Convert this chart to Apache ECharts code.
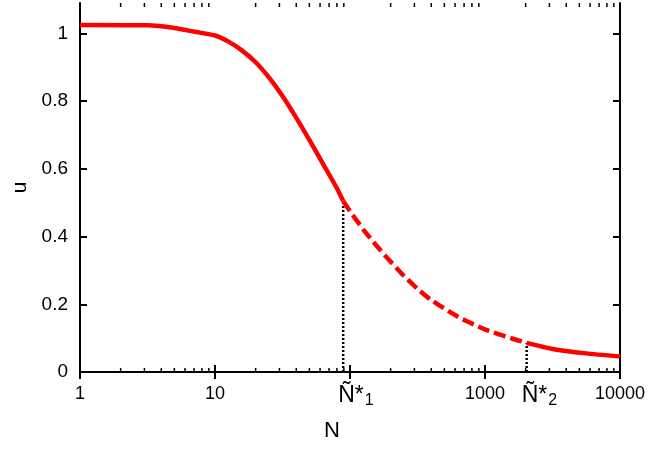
<!DOCTYPE html>
<html>
<head>
<meta charset="utf-8">
<script src="https://cdn.jsdelivr.net/npm/echarts@6/dist/echarts.min.js"></script>
<style>
  html, body { margin: 0; padding: 0; background: #fff; }
  #main { width: 654px; height: 451px; }
</style>
</head>
<body>
<div id="main"></div>
<script>
// curve
var solidN = [1, 3.16, 5.01, 7.08, 10, 12.6, 15.8, 20, 25.1, 31.6, 39.8, 50.1, 63.1, 79.4, 89];
var solidU = [1.025, 1.024, 1.016, 1.005, 0.994, 0.976, 0.950, 0.915, 0.870, 0.815, 0.752, 0.685, 0.615, 0.545, 0.505];
var dashN = [89, 100, 126, 158, 200, 251, 316, 398, 631, 1000, 1585, 2035];
var dashU = [0.505, 0.475, 0.420, 0.372, 0.326, 0.284, 0.246, 0.213, 0.163, 0.126, 0.099, 0.086];
var tailN = [2035, 3162, 5623, 10000];
var tailU = [0.086, 0.068, 0.055, 0.046];

// the two marked points
var nStar1 = 89, uStar1 = 0.505;
var nStar2 = 2035, uStar2 = 0.086;

// axes
var xMajor = [1, 10, 100, 1000, 10000];
var xLabels = [1, 10, 1000, 10000];
var xMinor = [2, 3, 4, 5, 6, 7, 8, 9, 20, 30, 40, 50, 60, 70, 80, 90,
  200, 300, 400, 500, 600, 700, 800, 900, 2000, 3000, 4000, 5000, 6000, 7000, 8000, 9000];
var yTicks = [0, 0.2, 0.4, 0.6, 0.8, 1];
var yMax = 1.09;

function pairs(xs, ys) {
  return xs.map(function (x, i) { return [x, ys[i]]; });
}

var font = 'Liberation Sans, Arial, sans-serif';
var black = '#000';

var chart = echarts.init(document.getElementById('main'), null, { renderer: 'canvas' });

var starLabel = function (sub) {
  return {
    show: true,
    position: 'bottom',
    distance: 11,
    align: 'left',
    offset: [-5, 0],
    color: black,
    opacity: 1,
    fontSize: 23,
    fontFamily: font,
    formatter: '{n|Ñ*}{s|' + sub + '}',
    rich: {
      n: { fontSize: 23, fontFamily: font, color: black },
      s: { fontSize: 16, fontFamily: font, color: black, padding: [9, 0, 0, 1] }
    }
  };
};

var option = {
  animation: false,
  grid: { left: 80, right: 34, top: 3, bottom: 79 },
  xAxis: [{
    type: 'log',
    logBase: 10,
    min: 1,
    max: 10000,
    name: 'N',
    nameLocation: 'middle',
    nameGap: 48,
    nameTextStyle: { fontSize: 22, fontFamily: font, color: black, padding: [0, 36, 0, 0] },
    axisLine: { lineStyle: { color: black, width: 2 } },
    axisTick: { inside: true, length: 7, customValues: xMajor, lineStyle: { color: black, width: 2 } },
    axisLabel: {
      customValues: xLabels,
      margin: 13,
      fontSize: 18,
      fontFamily: font,
      color: black,
      formatter: function (v) { return String(Math.round(v)); }
    },
    splitLine: { show: false }
  }, {
    type: 'log',
    logBase: 10,
    min: 1,
    max: 10000,
    position: 'top',
    axisLine: { lineStyle: { color: black, width: 2 } },
    axisTick: { inside: true, length: 7, customValues: xMajor, lineStyle: { color: black, width: 2 } },
    axisLabel: { show: false },
    splitLine: { show: false }
  }],
  yAxis: [{
    type: 'value',
    min: 0,
    max: yMax,
    interval: 0.2,
    name: 'u',
    nameLocation: 'middle',
    nameGap: 45,
    nameTextStyle: { fontSize: 21, fontFamily: font, color: black },
    axisLine: { lineStyle: { color: black, width: 2 } },
    axisTick: { inside: true, length: 7, customValues: yTicks, lineStyle: { color: black, width: 2 } },
    axisLabel: {
      customValues: yTicks,
      margin: 12,
      fontSize: 19,
      fontFamily: font,
      color: black,
      formatter: function (v) { return String(v); }
    },
    splitLine: { show: false }
  }, {
    type: 'value',
    min: 0,
    max: yMax,
    position: 'right',
    axisLine: { lineStyle: { color: black, width: 2 } },
    axisTick: { inside: true, length: 7, customValues: yTicks, lineStyle: { color: black, width: 2 } },
    axisLabel: { show: false },
    splitLine: { show: false }
  }],
  series: [
    {
      // minor ticks of the log axis, bottom and top
      type: 'custom',
      silent: true,
      clip: false,
      data: xMinor.map(function (v) { return [v, 0]; }),
      renderItem: function (params, api) {
        var b = api.coord([api.value(0), 0]);
        var t = api.coord([api.value(0), yMax]);
        var st = { stroke: black, lineWidth: 1.5 };
        return {
          type: 'group',
          children: [
            { type: 'line', shape: { x1: b[0], y1: b[1], x2: b[0], y2: b[1] - 4 }, style: st },
            { type: 'line', shape: { x1: t[0], y1: t[1], x2: t[0], y2: t[1] + 4 }, style: st }
          ]
        };
      }
    },
    {
      type: 'line',
      symbol: 'none',
      data: [[nStar1, 0], [nStar1, uStar1]],
      lineStyle: { color: black, width: 2.5, type: [2, 2] },
      z: 3
    },
    {
      type: 'line',
      symbol: 'none',
      data: [[nStar2, 0], [nStar2, uStar2]],
      lineStyle: { color: black, width: 2.5, type: [2, 2] },
      z: 3
    },
    {
      // Ñ*1, Ñ*2 under the axis
      type: 'scatter',
      symbolSize: 1,
      clip: false,
      silent: true,
      itemStyle: { color: 'transparent', opacity: 1 },
      data: [
        { value: [nStar1, 0], label: starLabel('1') },
        { value: [nStar2, 0], label: starLabel('2') }
      ],
      z: 5
    },
    {
      type: 'line',
      symbol: 'none',
      smooth: 0.2,
      data: pairs(solidN, solidU),
      lineStyle: { color: '#ff0000', width: 4.5 },
      z: 4
    },
    {
      type: 'line',
      symbol: 'none',
      smooth: 0.2,
      data: pairs(dashN, dashU),
      lineStyle: { color: '#ff0000', width: 4.5, type: [12, 5] },
      z: 4
    },
    {
      type: 'line',
      symbol: 'none',
      smooth: 0.2,
      data: pairs(tailN, tailU),
      lineStyle: { color: '#ff0000', width: 4.5 },
      z: 4
    }
  ]
};

chart.setOption(option);
</script>
</body>
</html>
